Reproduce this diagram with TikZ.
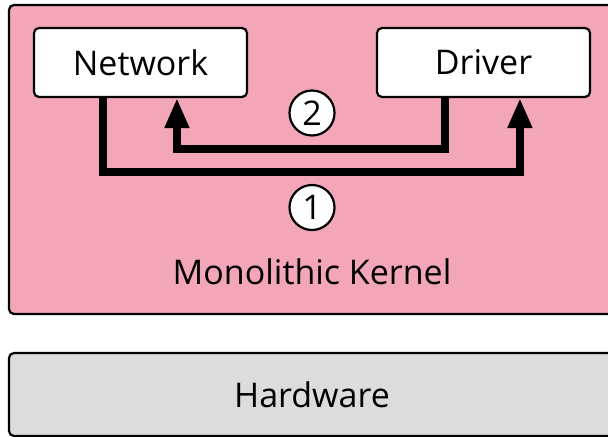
\documentclass[tikz,border=0pt]{standalone}
\usepackage{fontspec}
\setmainfont{Open Sans}
\usetikzlibrary{arrows.meta,calc}
\definecolor{kernelpink}{HTML}{F4A6B9}
\definecolor{hwgray}{HTML}{DCDCDC}
\tikzset{
  layerbox/.style={draw=black,line width=1.1pt,rounded corners=2.5pt},
  modbox/.style={draw=black,line width=1.1pt,rounded corners=2.5pt,fill=white,
    minimum width=106.5pt,minimum height=34.5pt,inner sep=0pt},
  numcirc/.style={circle,draw=black,line width=1.1pt,fill=white,minimum size=22.5pt,inner sep=0pt},
  flow/.style={line width=3.9pt,line join=miter,-{Triangle[length=15pt,width=11.5pt]}},
  lbl/.style={inner sep=0pt},
}
\begin{document}
\begin{tikzpicture}[x=0.5pt,y=-0.5pt,font=\fontsize{17}{20}\selectfont]
\useasboundingbox (0,0) rectangle (608,437);
\clip (0,0) rectangle (608,437);
\fill[white] (0,0) rectangle (608,437);
\draw[layerbox,fill=kernelpink] (9,5) rectangle (630,314);
\draw[layerbox,fill=hwgray] (9,353) rectangle (630,436);
\node[lbl] (klabel) at (312,272) {Monolithic Kernel};
\node[lbl] (hwlabel) at (312,395) {Hardware};
\node[modbox] (net) at (140.5,62.5) {Network};
\node[modbox] (drv) at (483.5,62.5) {Driver};
\coordinate (r1) at (0,171.7);
\coordinate (r2) at (0,149.3);
\coordinate (a1) at ($(net.south west)+(69.7,0)$);
\coordinate (b1) at ($(drv.south west)+(144,0)$);
\coordinate (a2) at ($(drv.south west)+(69,0)$);
\coordinate (b2) at ($(net.south west)+(144,0)$);
\draw[flow] (a1) -- (a1 |- r1) -| (b1);
\draw[flow] (a2) -- (a2 |- r2) -| (b2);
\node[numcirc] (c2) at (312,113) {2};
\node[numcirc] (c1) at (312,207.5) {1};
\end{tikzpicture}
\end{document}
